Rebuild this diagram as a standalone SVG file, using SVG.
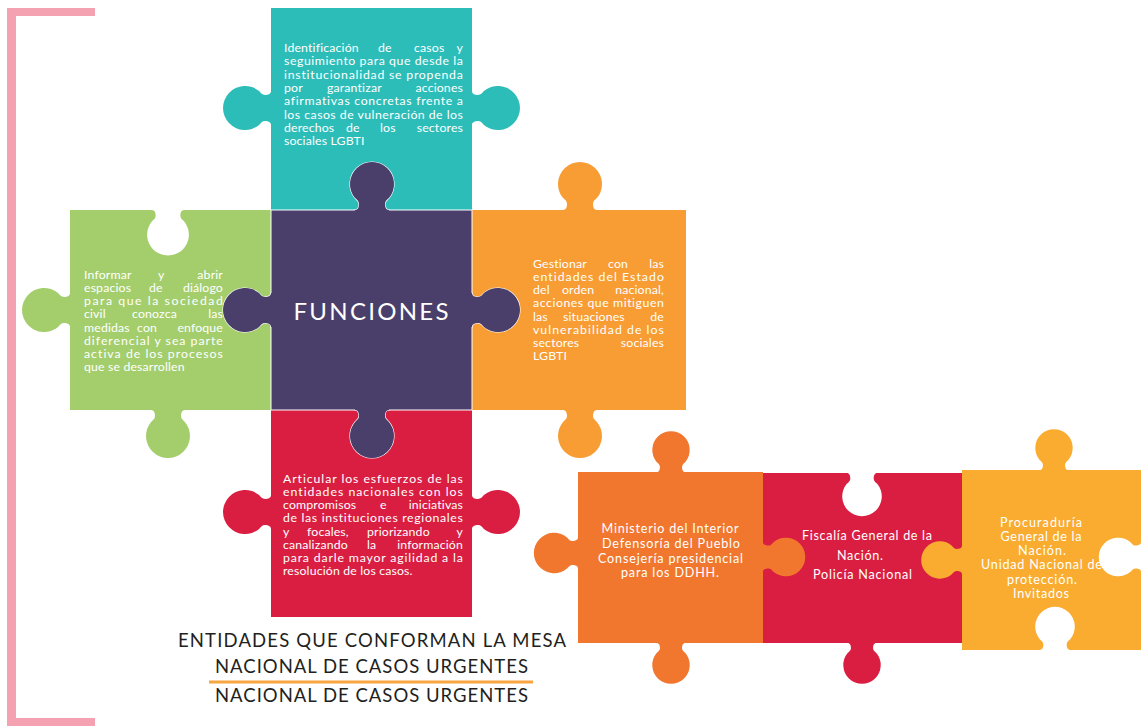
<svg xmlns="http://www.w3.org/2000/svg" xmlns:xlink="http://www.w3.org/1999/xlink" width="1141" height="727" viewBox="0 0 1141 727">
  <style>
    .t { font-family: Lato, "Open Sans", sans-serif; font-size: 12.3px; fill: #ffffff; letter-spacing: 0.15px; }
    .e { text-anchor: end; }
    .c { font-family: Lato, "Open Sans", sans-serif; font-size: 12.6px; fill: #ffffff; text-anchor: middle; }
    .h { font-family: Lato, "Open Sans", sans-serif; font-size: 24px; fill: #ffffff; text-anchor: middle; }
    .ttl { font-family: Lato, "Open Sans", sans-serif; font-size: 18.5px; fill: #231f20; }
  </style>
  <defs>
    <!-- puzzle tab pointing up, base on y=0, circle centre at (0,-26) -->
    <path id="knob" d="M-17,1 L-17,0 C-14,0 -13,-3 -13,-6 C-13,-9 -15,-10 -16.9,-11.9 A22,22 0 1 1 16.9,-11.9 C15,-10 13,-9 13,-6 C13,-3 14,0 17,0 L17,1 Z"/>
  </defs>

  <!-- left bracket -->
  <path id="bracket" fill="#f4a2b1" d="M7,8 H95 V16 H16 V718 H95 V726 H7 Z"/>

  <g id="teal" fill="#2cbdb9">
    <rect x="271" y="8" width="201" height="202"/>
    <use xlink:href="#knob" transform="translate(271,108) rotate(-90)"/>
    <use xlink:href="#knob" transform="translate(472,108) rotate(90)"/>
    <text class="t" y="52"><tspan x="284">Identificación</tspan><tspan x="378">de</tspan><tspan x="414">casos</tspan><tspan class="e" x="463">y</tspan></text>
    <text class="t" x="284" y="65.3" textLength="179" lengthAdjust="spacing">seguimiento para que desde la</text>
    <text class="t" x="284" y="78.6" textLength="179" lengthAdjust="spacing">institucionalidad se propenda</text>
    <text class="t" y="91.9"><tspan x="284">por</tspan><tspan x="327">garantizar</tspan><tspan class="e" x="463">acciones</tspan></text>
    <text class="t" x="284" y="105.2" textLength="179" lengthAdjust="spacing">afirmativas concretas frente a</text>
    <text class="t" x="284" y="118.5" textLength="179" lengthAdjust="spacing">los casos de vulneración de los</text>
    <text class="t" y="131.8"><tspan x="284">derechos</tspan><tspan x="346">de</tspan><tspan x="380">los</tspan><tspan class="e" x="463">sectores</tspan></text>
    <text class="t" x="284" y="145">sociales LGBTI</text>
  </g>

  <g id="green" fill="#a4ce6c">
    <rect x="70" y="210" width="201" height="200"/>
    <use xlink:href="#knob" transform="translate(70,310) rotate(-90)"/>
    <use xlink:href="#knob" transform="translate(168,410) rotate(180)"/>
    <use xlink:href="#knob" fill="#ffffff" transform="translate(168,210) rotate(180) scale(0.95)"/>
    <text class="t" y="279"><tspan x="84">Informar</tspan><tspan x="158">y</tspan><tspan class="e" x="223">abrir</tspan></text>
    <text class="t" y="292.1"><tspan x="84">espacios</tspan><tspan x="149">de</tspan><tspan class="e" x="223">diálogo</tspan></text>
    <text class="t" x="84" y="305.3" textLength="139" lengthAdjust="spacing">para que la sociedad</text>
    <text class="t" y="318.4"><tspan x="84">civil</tspan><tspan x="132">conozca</tspan><tspan class="e" x="223">las</tspan></text>
    <text class="t" y="331.6"><tspan x="84">medidas</tspan><tspan x="137">con</tspan><tspan class="e" x="223">enfoque</tspan></text>
    <text class="t" x="84" y="344.7" textLength="139" lengthAdjust="spacing">diferencial y sea parte</text>
    <text class="t" x="84" y="357.9" textLength="139" lengthAdjust="spacing">activa de los procesos</text>
    <text class="t" x="84" y="371">que se desarrollen</text>
  </g>

  <g id="orange" fill="#f79d33">
    <rect x="472" y="210" width="214" height="200"/>
    <use xlink:href="#knob" transform="translate(580,210)"/>
    <use xlink:href="#knob" transform="translate(580,410) rotate(180)"/>
    <text class="t" y="268"><tspan x="533">Gestionar</tspan><tspan x="608">con</tspan><tspan class="e" x="664">las</tspan></text>
    <text class="t" x="533" y="281.1" textLength="131" lengthAdjust="spacing">entidades del Estado</text>
    <text class="t" y="294.3"><tspan x="533">del</tspan><tspan x="562">orden</tspan><tspan class="e" x="664">nacional,</tspan></text>
    <text class="t" x="533" y="307.4" textLength="131" lengthAdjust="spacing">acciones que mitiguen</text>
    <text class="t" y="320.6"><tspan x="533">las</tspan><tspan x="563">situaciones</tspan><tspan class="e" x="664">de</tspan></text>
    <text class="t" x="533" y="333.7" textLength="131" lengthAdjust="spacing">vulnerabilidad de los</text>
    <text class="t" y="346.9"><tspan x="533">sectores</tspan><tspan class="e" x="664">sociales</tspan></text>
    <text class="t" x="533" y="360">LGBTI</text>
  </g>

  <g id="red" fill="#da1e41">
    <rect x="271" y="410" width="201" height="207"/>
    <use xlink:href="#knob" transform="translate(271,512) rotate(-90)"/>
    <use xlink:href="#knob" transform="translate(472,512) rotate(90)"/>
    <text class="t" x="283" y="483" textLength="180" lengthAdjust="spacing">Articular los esfuerzos de las</text>
    <text class="t" x="283" y="496.1" textLength="180" lengthAdjust="spacing">entidades nacionales con los</text>
    <text class="t" y="509.3"><tspan x="283">compromisos</tspan><tspan x="380">e</tspan><tspan class="e" x="463">iniciativas</tspan></text>
    <text class="t" x="283" y="522.4" textLength="180" lengthAdjust="spacing">de las instituciones regionales</text>
    <text class="t" y="535.6"><tspan x="283">y</tspan><tspan x="307">focales,</tspan><tspan x="367">priorizando</tspan><tspan class="e" x="463">y</tspan></text>
    <text class="t" y="548.7"><tspan x="283">canalizando</tspan><tspan x="367">la</tspan><tspan class="e" x="463">información</tspan></text>
    <text class="t" x="283" y="561.9" textLength="180" lengthAdjust="spacing">para darle mayor agilidad a la</text>
    <text class="t" x="283" y="575">resolución de los casos.</text>
  </g>

  <g id="funciones" fill="#4a3f6b">
    <!-- tabs with a thin light outline, then the body, then plain tabs over the body edge -->
    <g stroke="#ffffff" stroke-width="1.2">
      <use xlink:href="#knob" transform="translate(372,210)"/>
      <use xlink:href="#knob" transform="translate(372,410) rotate(180)"/>
      <use xlink:href="#knob" transform="translate(271,310) rotate(-90)"/>
      <use xlink:href="#knob" transform="translate(472,310) rotate(90)"/>
    </g>
    <rect x="271" y="210" width="201" height="200" stroke="#ffffff" stroke-width="1"/>
    <use xlink:href="#knob" transform="translate(372,210)"/>
    <use xlink:href="#knob" transform="translate(372,410) rotate(180)"/>
    <use xlink:href="#knob" transform="translate(271,310) rotate(-90)"/>
    <use xlink:href="#knob" transform="translate(472,310) rotate(90)"/>
    <text class="h" x="371" y="320" textLength="155" lengthAdjust="spacing">FUNCIONES</text>
  </g>

  <g id="title">
    <text class="ttl" x="178" y="647" textLength="388" lengthAdjust="spacing">ENTIDADES QUE CONFORMAN LA MESA</text>
    <text class="ttl" x="215" y="673" textLength="313" lengthAdjust="spacing">NACIONAL DE CASOS URGENTES</text>
    <line x1="209" y1="682" x2="533" y2="682" stroke="#f7a540" stroke-width="3"/>
    <text class="ttl" x="215" y="702" textLength="313" lengthAdjust="spacing">NACIONAL DE CASOS URGENTES</text>
  </g>

  <g id="yellow" fill="#f9ac30">
    <rect x="962" y="470" width="179" height="180"/>
    <use xlink:href="#knob" transform="translate(1054,470) scale(0.85)"/>
    <use xlink:href="#knob" fill="#ffffff" transform="translate(1141,557) rotate(-90) scale(0.88)"/>
    <use xlink:href="#knob" fill="#ffffff" transform="translate(1055,650) scale(0.9)"/>
  </g>

  <g id="red-entities" fill="#da1e41">
    <rect x="763" y="473" width="199" height="170"/>
    <use xlink:href="#knob" transform="translate(862,643) rotate(180) scale(0.85)"/>
    <use xlink:href="#knob" fill="#ffffff" transform="translate(862,473) rotate(180) scale(0.9)"/>
    <!-- yellow tab entering from the right -->
    <use xlink:href="#knob" fill="#f9ac30" transform="translate(962,560) rotate(-90) scale(0.85)"/>
    <text class="c" x="867" y="540" textLength="130" lengthAdjust="spacing">Fiscalía General de la</text>
    <text class="c" x="860" y="560" textLength="46" lengthAdjust="spacing">Nación.</text>
    <text class="c" x="862.5" y="579" textLength="99" lengthAdjust="spacing">Policía Nacional</text>
  </g>

  <g id="yellow-text">
    <text class="c" x="1041" y="527" textLength="82" lengthAdjust="spacing">Procuraduría</text>
    <text class="c" x="1041" y="541" textLength="81" lengthAdjust="spacing">General de la</text>
    <text class="c" x="1042" y="555" textLength="48" lengthAdjust="spacing">Nación.</text>
    <text class="c" x="1041.5" y="569" textLength="121" lengthAdjust="spacing">Unidad Nacional de</text>
    <text class="c" x="1042" y="584" textLength="70" lengthAdjust="spacing">protección.</text>
    <text class="c" x="1041" y="598" textLength="56" lengthAdjust="spacing">Invitados</text>
  </g>

  <g id="orange-entities" fill="#f1772e">
    <rect x="578" y="472" width="185" height="171"/>
    <use xlink:href="#knob" transform="translate(671,472) scale(0.85)"/>
    <use xlink:href="#knob" transform="translate(578,553) rotate(-90) scale(0.92)"/>
    <use xlink:href="#knob" transform="translate(671,643) rotate(180) scale(0.85)"/>
    <use xlink:href="#knob" transform="translate(763,557) rotate(90) scale(0.88)"/>
    <text class="c" x="670" y="533" textLength="137" lengthAdjust="spacing">Ministerio del Interior</text>
    <text class="c" x="671" y="548" textLength="138" lengthAdjust="spacing">Defensoría del Pueblo</text>
    <text class="c" x="670.5" y="563" textLength="145" lengthAdjust="spacing">Consejería presidencial</text>
    <text class="c" x="670" y="577" textLength="98" lengthAdjust="spacing">para los DDHH.</text>
  </g>
</svg>
